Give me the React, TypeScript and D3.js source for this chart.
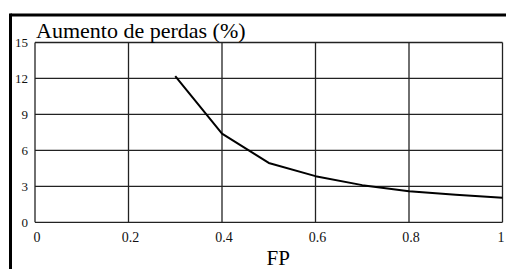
import React from "react";
import * as d3 from "d3";

const fpValues = [0.3, 0.4, 0.5, 0.6, 0.7, 0.8, 0.9, 1.0];
const lossValues = [12.2, 7.4, 4.95, 3.85, 3.1, 2.6, 2.3, 2.05];
const xTicks = [0, 0.2, 0.4, 0.6, 0.8, 1];
const yTicks = [0, 3, 6, 9, 12, 15];
const xTickLabels = ["0", "0.2", "0.4", "0.6", "0.8", "1"];
const yTickLabels = ["0", "3", "6", "9", "12", "15"];
const titleText = "Aumento de perdas (%)";
const xLabelText = "FP";

export default function App() {
  const W = 506;
  const H = 269;
  const x = d3.scaleLinear().domain([0, 1]).range([35, 502.5]);
  const y = d3.scaleLinear().domain([0, 15]).range([222.3, 42.5]);
  const pts: [number, number][] = fpValues.map((v, i) => [v, lossValues[i]]);
  const line = d3
    .line<[number, number]>()
    .x((d) => x(d[0]))
    .y((d) => y(d[1]));
  const fontStyle = { fontFamily: "\"Liberation Serif\", \"DejaVu Serif\", serif" };
  const gridColor = "#222";
  return (
    <svg
      width={W}
      height={H}
      style={{ position: "absolute", left: 0, top: 0, background: "#fff" }}
    >
      <rect x={0} y={0} width={W} height={H} fill="#fff" />
      {/* outer frame */}
      <line x1={10.5} y1={15} x2={W + 10} y2={15} stroke="#000" strokeWidth={3} />
      <line x1={10.5} y1={13.5} x2={10.5} y2={H + 10} stroke="#000" strokeWidth={3} />
      {/* grid */}
      {xTicks.map((t, i) => (
        <line
          key={"gx" + i}
          x1={x(t)}
          x2={x(t)}
          y1={y(0)}
          y2={y(15)}
          stroke={gridColor}
          strokeWidth={1.3}
        />
      ))}
      {yTicks.map((t, i) => (
        <line
          key={"gy" + i}
          x1={x(0)}
          x2={x(1)}
          y1={y(t)}
          y2={y(t)}
          stroke={gridColor}
          strokeWidth={1.3}
        />
      ))}
      {/* curve */}
      <path d={line(pts) || ""} fill="none" stroke="#000" strokeWidth={2} strokeLinejoin="round" />
      {/* y tick labels */}
      {yTicks.map((t, i) => (
        <text
          key={"ly" + i}
          x={28}
          y={y(t) + 4.5}
          textAnchor="end"
          fontSize={13}
          fill="#111"
          style={fontStyle}
        >
          {yTickLabels[i]}
        </text>
      ))}
      {/* x tick labels */}
      {xTicks.map((t, i) => (
        <text
          key={"lx" + i}
          x={Math.min(x(t) + 2, 501)}
          y={242}
          textAnchor="middle"
          fontSize={14}
          fill="#111"
          style={fontStyle}
        >
          {xTickLabels[i]}
        </text>
      ))}
      <text x={36} y={37.5} fontSize={22} fill="#000" style={fontStyle}>
        {titleText}
      </text>
      <text x={266.5} y={265} fontSize={21} fill="#000" style={fontStyle}>
        {xLabelText}
      </text>
    </svg>
  );
}
